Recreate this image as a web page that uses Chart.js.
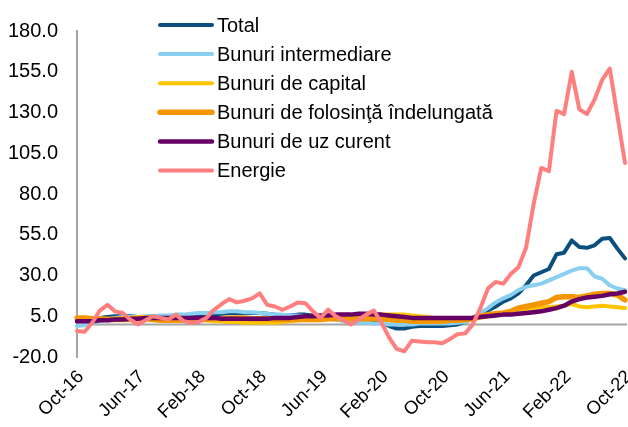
<!DOCTYPE html>
<html><head><meta charset="utf-8">
<script src="https://cdn.jsdelivr.net/npm/chart.js@4/dist/chart.umd.min.js"></script>
<style>html,body{margin:0;padding:0;background:#fff}#wrap{width:628px;height:427px;position:relative}</style>
</head><body><div id="wrap"><canvas id="c" width="628" height="427"></canvas></div>
<script>
const categories = [
 'Oct-16','Nov-16','Dec-16',
 'Jan-17','Feb-17','Mar-17','Apr-17','May-17','Jun-17','Jul-17','Aug-17','Sep-17','Oct-17','Nov-17','Dec-17',
 'Jan-18','Feb-18','Mar-18','Apr-18','May-18','Jun-18','Jul-18','Aug-18','Sep-18','Oct-18','Nov-18','Dec-18',
 'Jan-19','Feb-19','Mar-19','Apr-19','May-19','Jun-19','Jul-19','Aug-19','Sep-19','Oct-19','Nov-19','Dec-19',
 'Jan-20','Feb-20','Mar-20','Apr-20','May-20','Jun-20','Jul-20','Aug-20','Sep-20','Oct-20','Nov-20','Dec-20',
 'Jan-21','Feb-21','Mar-21','Apr-21','May-21','Jun-21','Jul-21','Aug-21','Sep-21','Oct-21','Nov-21','Dec-21',
 'Jan-22','Feb-22','Mar-22','Apr-22','May-22','Jun-22','Jul-22','Aug-22','Sep-22','Oct-22'
];
const tickLabels = ['Oct-16','Jun-17','Feb-18','Oct-18','Jun-19','Feb-20','Oct-20','Jun-21','Feb-22','Oct-22'];
const yTicks = [-20, 5, 30, 55, 80, 105, 130, 155, 180];

const total = [2.5,2.5,3,4,4.5,5,5,5,4.5,4.5,5,5,5,5.5,5.5,5.5,5.5,6,6,6.5,7,7,7,7,7,6.5,6,5.5,5.5,6,6,5.5,5,5,5,4.5,4,3.5,3,2.5,1,-1,-2.5,-2.5,-1.5,-1,-1,-1,-1,-0.5,0,1.5,4,6.5,8.5,11,14,16,19,24,30,32,34,43,44,51.5,47.5,47,48.5,52.5,53,46.5,40.5];
const intermediare = [-1,-0.5,1,2,3,4,4.5,4.5,4.5,5,5,5.5,5.5,6,6,6.5,7,7,7.5,7.5,8,8,7.5,7.5,7,6.5,6,6,5.5,5.5,5,4.5,4,3.5,3,2,1.5,1,1,0.5,0.5,0,0,0,0,0.5,0.5,0.5,0.5,0.5,1,1.5,3.5,7,10,13.5,16,18,21,23,24,25,27,29,31,33,34.5,34.5,29.5,28,24,22,21];
const capital = [3,3,3,3,3.5,3.5,4,4,4.5,4.5,4,4,4,3.5,3.5,3,3,2.5,2,2,1.5,1.5,1,1,1,1,1,1.5,2,2.5,3,3,3.5,4,4,4.5,5,5,5.5,5.5,6,6,6,6,5.5,5,4.5,4,3.5,3,2.5,2.5,3,4,5,6,7,8,9,9.5,10,10.5,10.5,11,11.5,12.5,11,10.5,11,11.5,11,10.5,10];
const folosinta = [4,4,3.5,3.5,3,3,3,3,3.5,3.5,3,2.5,2.5,2.5,2.5,3,3,3,3.5,3.5,4,4,4,3.5,3.5,3.5,3,3,3,3,3,3,3,3.5,3.5,3.5,3.5,3.5,3.5,3.5,3.5,3,2.5,2.5,2,2,2,2,2,2.5,2.5,3,3.5,5,6,6.5,7,8,10,11,12,13,14,16.5,17,17,16.5,17.5,18.5,19,19,18,15];
const uzCurent = [2,2,2,2.5,2.5,3,3,3.5,3.5,4,4,4,4,4,4,4,4,4,4,3.5,3.5,3.5,3.5,3.5,3.5,3.5,4,4,4,4.5,5,5,5.5,5.5,6,6,6,6.5,6.5,6,6,5.5,5,4.5,4,4,4,4,4,4,4,4,4,4.5,5,5.5,6,6,6.5,7,7.5,8,9,10,11.5,14,15.5,16.5,17,17.5,18.5,19,20];
const energie = [-4,-4.5,1,8.5,12,8,7,3,0,2.5,5,4,3,6,2,1,1.5,4,9,12.5,15.5,13.5,14.5,16,19,12,11,9,11,13.5,13,8,4,9,5,2.5,0,3,6,8.5,1,-8,-15,-16.5,-10,-10.5,-11,-11,-11.5,-9,-6,-5.5,0,10,22,26,25,31,35,47,74,96,94,131,129,155,132,129,138,150,157,128,99];

const FONT = '"Liberation Sans", Arial, sans-serif';

const zeroLine = {
  id: 'zeroLine',
  beforeDatasetsDraw(chart) {
    const y = chart.scales.y.getPixelForValue(0);
    const a = chart.chartArea;
    const ctx = chart.ctx;
    ctx.save();
    ctx.strokeStyle = '#A6A6A6';
    ctx.lineWidth = 2;
    ctx.beginPath();
    ctx.moveTo(a.left, y);
    ctx.lineTo(a.right + 2, y);
    ctx.stroke();
    ctx.restore();
  }
};

const insideLegend = {
  id: 'insideLegend',
  afterDatasetsDraw(chart, args, opts) {
    const ctx = chart.ctx;
    ctx.save();
    ctx.font = opts.font;
    ctx.textBaseline = 'middle';
    ctx.textAlign = 'left';
    chart.data.datasets.forEach((ds, i) => {
      const y = opts.y + i * opts.rowHeight;
      ctx.beginPath();
      ctx.strokeStyle = ds.borderColor;
      ctx.lineWidth = ds.borderWidth;
      ctx.lineCap = 'round';
      ctx.moveTo(opts.x, y);
      ctx.lineTo(opts.x + opts.lineLength, y);
      ctx.stroke();
      ctx.fillStyle = opts.color;
      ctx.fillText(ds.label, opts.x + opts.lineLength + opts.gap, y + 1);
    });
    ctx.restore();
  }
};

function ds(label, data, color, width, order) {
  return { label, data, borderColor: color, backgroundColor: color, borderWidth: width,
           pointRadius: 0, pointHoverRadius: 0, tension: 0, fill: false,
           borderJoinStyle: 'round', borderCapStyle: 'round', order };
}

new Chart(document.getElementById('c'), {
  type: 'line',
  data: {
    labels: categories,
    datasets: [
      ds('Total', total, '#0B4F7E', 4, 6),
      ds('Bunuri intermediare', intermediare, '#88CFF0', 4, 5),
      ds('Bunuri de capital', capital, '#FFC400', 4, 4),
      ds('Bunuri de folosinţă îndelungată', folosinta, '#F39600', 5.5, 3),
      ds('Bunuri de uz curent', uzCurent, '#660066', 4.5, 2),
      ds('Energie', energie, '#FF7F7F', 4, 1)
    ]
  },
  options: {
    responsive: false,
    animation: false,
    devicePixelRatio: 1,
    layout: { padding: { left: 8, right: 3, top: 20, bottom: 0 } },
    plugins: {
      legend: { display: false },
      tooltip: { enabled: false },
      insideLegend: { x: 160, y: 25, rowHeight: 29.1, lineLength: 52, gap: 5, font: '20px ' + FONT, color: '#000' }
    },
    scales: {
      x: {
        offset: false,
        grid: { display: false, drawTicks: false },
        border: { display: false },
        ticks: {
          autoSkip: false, maxRotation: 45, minRotation: 45, padding: 9, labelOffset: 4,
          color: '#000', font: { family: FONT, size: 18.5 },
          callback: function(v) { const l = this.getLabelForValue(v); return tickLabels.includes(l) ? l : ''; }
        },
        afterFit: (scale) => { scale.paddingLeft = 0; scale.paddingRight = 0; scale.height = 70; }
      },
      y: {
        min: -20, max: 180,
        afterBuildTicks: (scale) => { scale.ticks = yTicks.map(v => ({ value: v })); },
        grid: { display: false, drawTicks: false },
        border: { display: true, color: '#A6A6A6', width: 2 },
        ticks: { padding: 19, color: '#000', font: { family: FONT, size: 20 }, callback: v => v.toFixed(1) },
        afterFit: (scale) => { scale.width = 69; }
      }
    }
  },
  plugins: [zeroLine, insideLegend]
});
</script>
</body></html>
